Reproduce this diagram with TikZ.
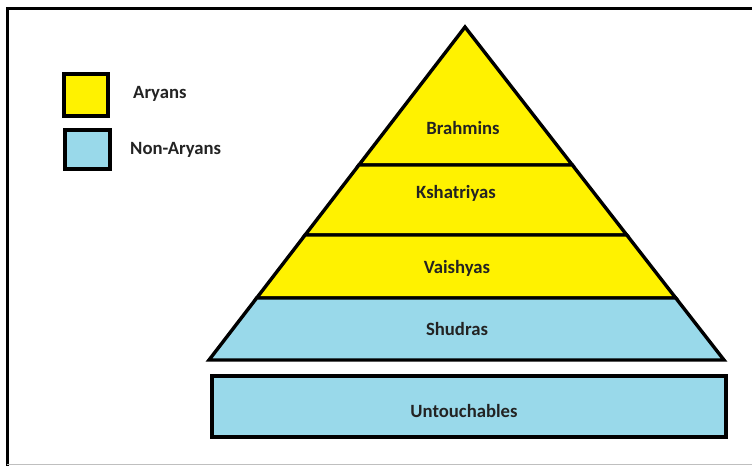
\documentclass[tikz,border=0pt]{standalone}
\usepackage{fontspec}
\setmainfont{Carlito}
\usetikzlibrary{calc}

\definecolor{aryan}{RGB}{255,242,0}
\definecolor{nonaryan}{RGB}{153,217,234}
\definecolor{inkgrey}{RGB}{35,35,35}

\tikzset{
  layer/.style={draw=black, line width=3.4pt, line join=miter},
  caste/.style={font=\bfseries\fontsize{18.7}{22}\selectfont, text=inkgrey},
}

\begin{document}
\begin{tikzpicture}[x=1pt,y=-1pt]
    \useasboundingbox (0,0) rectangle (752,466);

    % frame
    \draw[line width=3pt] (7,466) -- (7,8) -- (752,8);
    \draw[black!25, line width=1pt] (7,464.5) -- (752,464.5);

    % pyramid corners
    \coordinate (apex) at (465,27);
    \coordinate (bl) at (209,360);
    \coordinate (br) at (724,360);
    \coordinate (l1) at ($(apex)!0.4144!(bl)$);
    \coordinate (r1) at ($(apex)!0.4144!(br)$);
    \coordinate (l2) at ($(apex)!0.6246!(bl)$);
    \coordinate (r2) at ($(apex)!0.6246!(br)$);
    \coordinate (l3) at ($(apex)!0.8138!(bl)$);
    \coordinate (r3) at ($(apex)!0.8138!(br)$);

    \filldraw[layer, fill=aryan] (apex) -- (r1) -- (l1) -- cycle;
    \filldraw[layer, fill=aryan] (l1) -- (r1) -- (r2) -- (l2) -- cycle;
    \filldraw[layer, fill=aryan] (l2) -- (r2) -- (r3) -- (l3) -- cycle;
    \filldraw[layer, fill=nonaryan] (l3) -- (r3) -- (br) -- (bl) -- cycle;
    \filldraw[layer, fill=nonaryan] (212,376) rectangle (726,437);

    \node[caste] (brahmins) at (463,128) {Brahmins};
    \node[caste] (kshatriyas) at (456,193) {Kshatriyas};
    \node[caste] (vaishyas) at (457,268) {Vaishyas};
    \node[caste] (shudras) at (457,329) {Shudras};
    \node[caste] (untouchables) at (464,411) {Untouchables};

    % legend
    \filldraw[layer, fill=aryan] (64,74) rectangle (108,116);
    \filldraw[layer, fill=nonaryan] (65,130) rectangle (110,169);
    \node[caste, anchor=west, inner sep=0pt] (aryans) at (133,94) {Aryans};
    \node[caste, anchor=west, inner sep=0pt] (nonaryans) at (130,150) {Non-Aryans};

\end{tikzpicture}
\end{document}
